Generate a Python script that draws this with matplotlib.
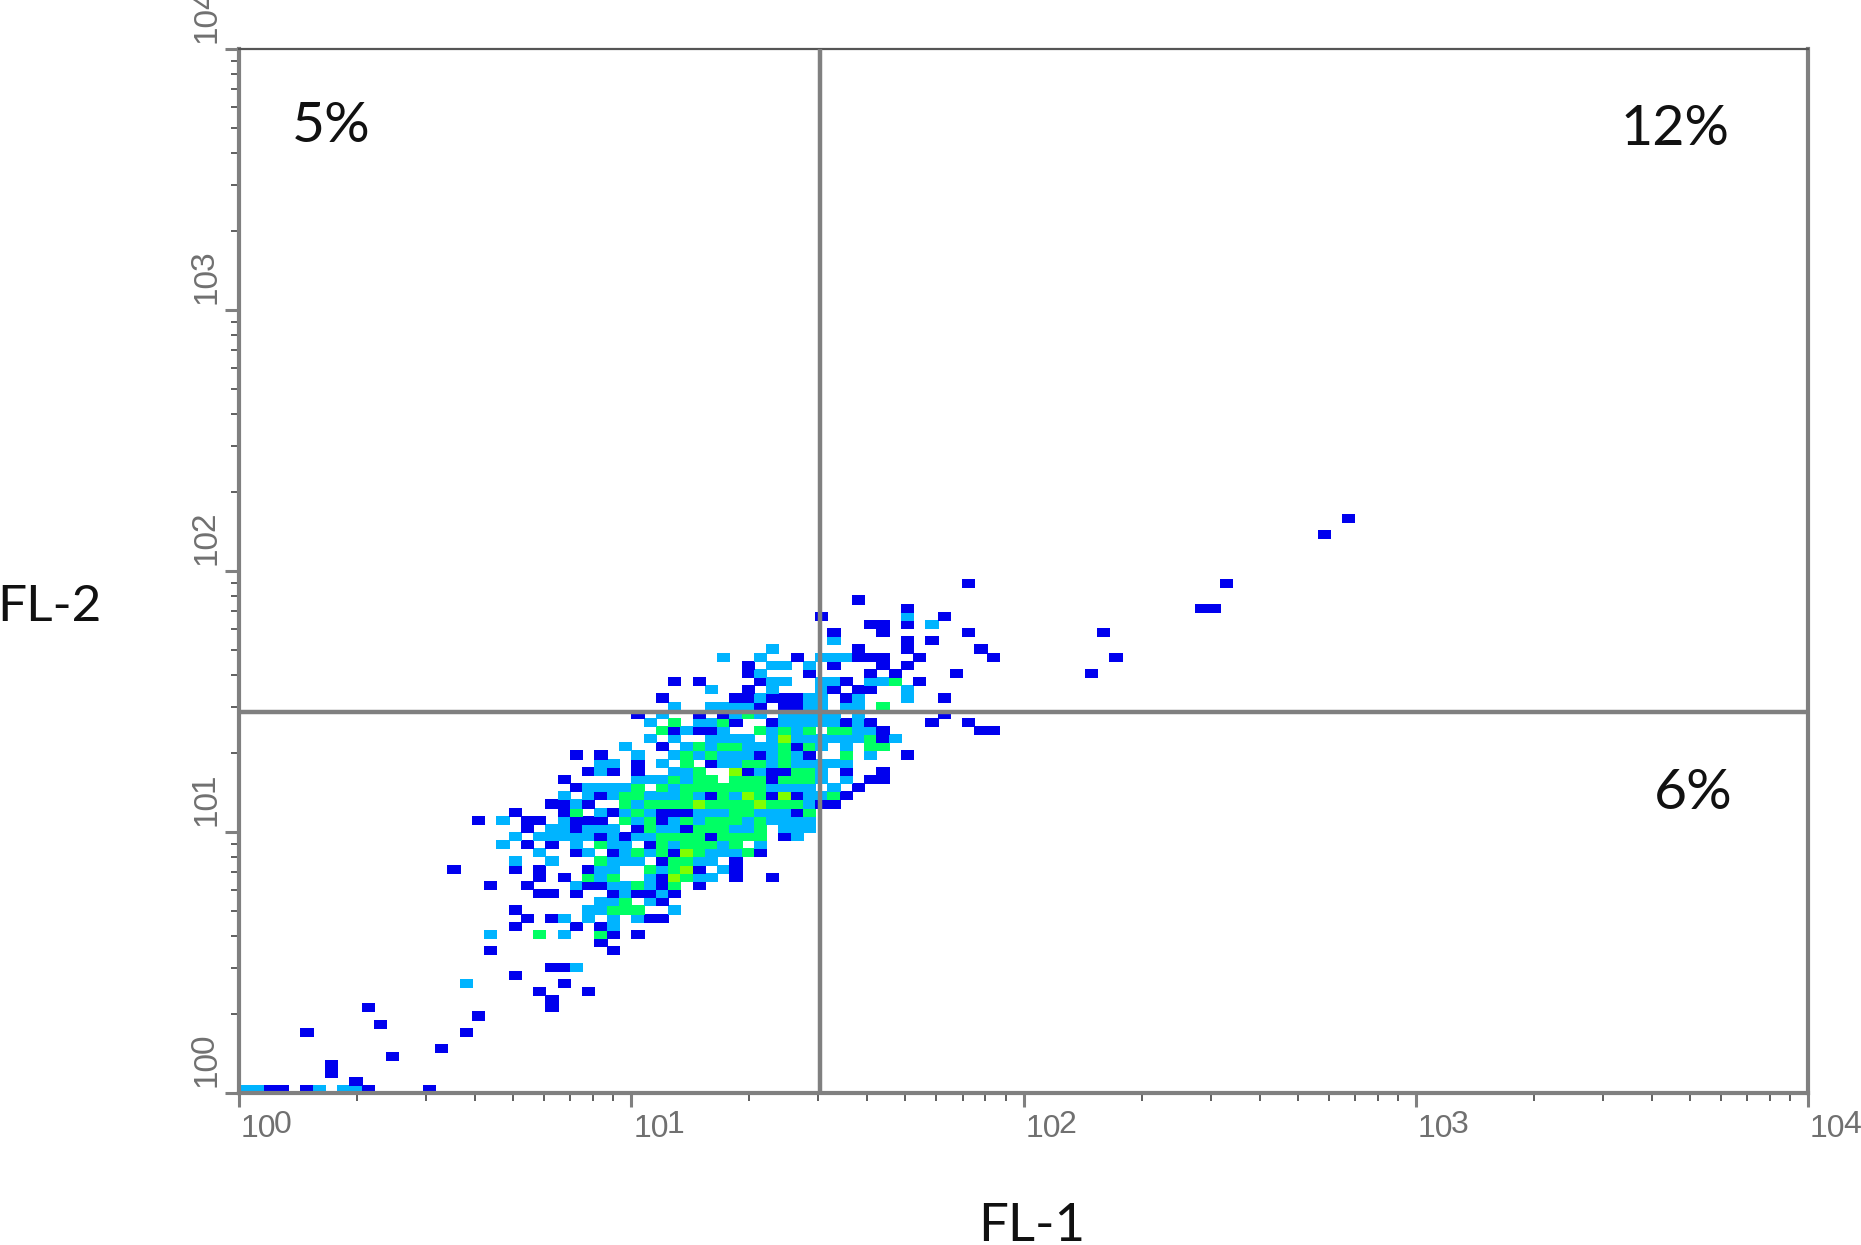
import numpy as np
import matplotlib
matplotlib.use('Agg')
import matplotlib.pyplot as plt
from matplotlib.colors import ListedColormap, BoundaryNorm
from matplotlib.ticker import LogLocator, NullFormatter

# occupied channels of the 128x128 histogram, {FL-2 channel: [FL-1 channels]}
level1_cells = {
    0: [2, 3, 5, 10, 15], 1: [9], 2: [7], 3: [7], 4: [12], 5: [16], 7: [5, 18], 8: [11], 9: [19],
    10: [10, 25], 11: [25], 12: [24, 28], 13: [26], 14: [22], 15: [25, 26], 17: [20, 30], 18: [29],
    19: [30, 32], 20: [22, 27, 29], 21: [23, 25, 33, 34], 22: [22], 23: [34],
    24: [24, 25, 27, 30, 32, 33, 35], 25: [20, 23, 28, 29, 34, 37], 26: [24, 26, 34, 40, 43],
    27: [17, 22, 24, 28, 37, 40], 28: [34, 40], 29: [27, 30, 35, 42], 30: [23, 25, 33],
    31: [29, 31, 38, 44], 32: [23, 27, 32, 36], 33: [19, 23, 24, 27, 28, 29, 34],
    34: [22, 26, 30, 34, 35, 36, 45], 35: [25, 26, 28, 47, 48], 36: [29, 38, 43, 45, 49],
    37: [27, 50], 38: [26, 43, 51, 52], 39: [28, 30, 32, 41, 43, 44, 49, 52], 40: [32, 38],
    41: [27, 29, 42, 46, 54], 42: [34, 45], 43: [52], 44: [35, 37, 38, 52, 60, 61],
    45: [40, 43, 49, 51, 56, 59], 46: [32, 37, 39, 57], 47: [42, 44, 45],
    48: [34, 40, 41, 43, 44, 45, 49, 57], 49: [41, 48, 50, 51], 50: [35, 37, 42, 49, 55],
    51: [41, 46, 51, 53, 58, 69], 52: [41, 48, 52, 54], 53: [45, 50, 51, 52, 55, 61, 71],
    54: [50, 54, 60], 55: [54, 56], 56: [48, 52, 59, 70], 57: [51, 52, 54], 58: [47, 57],
    59: [54, 78, 79], 60: [50], 62: [59, 80], 68: [88], 70: [90],
}
level2_cells = {
    0: [0, 1, 6, 8, 9], 13: [18], 15: [27], 19: [20, 26], 20: [30], 21: [26, 28, 30, 32],
    22: [28, 29, 35], 23: [29, 30, 33], 24: [31, 34], 25: [27, 30, 31, 33], 26: [29, 33, 37, 38],
    27: [29, 30, 34, 39], 28: [22, 25, 30, 31, 32, 37, 38], 29: [24, 28, 31, 33, 38, 39, 40],
    30: [21, 27, 30, 31, 35, 39, 42], 31: [22, 24, 25, 26, 27, 28, 30, 32, 33, 45],
    32: [25, 26, 28, 29, 30, 34, 35, 40, 41, 44, 45, 46],
    33: [21, 26, 32, 35, 37, 41, 43, 44, 45, 46], 34: [29, 31, 33, 37, 38, 39, 42, 43, 44],
    35: [27, 32, 46], 36: [26, 28, 30, 33, 34, 35, 37, 40, 46, 47],
    37: [28, 29, 30, 31, 35, 43, 44, 45, 46, 48], 38: [32, 33, 34, 36, 47, 49],
    39: [29, 35, 36, 42, 47], 40: [29, 30, 34, 39, 40, 43, 45, 46, 47, 48, 49],
    41: [32, 35, 37, 39, 40, 41, 43, 45, 51], 42: [31, 36, 38, 41, 42, 43, 47, 49],
    43: [33, 35, 38, 39, 40, 41, 43, 45, 46, 47, 48, 49, 50, 53], 44: [36, 39, 43, 45, 50, 51],
    45: [33, 37, 38, 44, 45, 46, 47, 48, 50], 46: [34, 40, 42, 44, 45, 46, 47, 48, 50],
    47: [35, 38, 39, 40, 41, 46, 47, 49, 50], 48: [42, 46, 47, 50, 54], 49: [38, 43, 47, 54],
    50: [43, 44, 47, 48, 51, 52], 51: [42], 52: [43, 44, 46], 53: [39, 42, 47, 48, 49],
    54: [43], 55: [48], 57: [56], 58: [54],
}
level3_cells = {
    19: [24, 29], 22: [30, 31, 32], 23: [31], 25: [32, 35], 26: [28, 30, 36], 27: [33, 35],
    28: [29, 35, 36], 29: [32, 34, 37, 41], 30: [29, 34, 36, 37, 38, 40],
    31: [34, 35, 36, 37, 39, 40, 41, 42], 32: [33, 37, 38, 39, 42],
    33: [31, 33, 36, 38, 39, 40, 42], 34: [27, 32, 40, 41, 46],
    35: [31, 33, 34, 35, 36, 38, 39, 40, 41, 43, 44, 45], 36: [31, 32, 36, 39, 42, 48],
    37: [32, 34, 36, 37, 38, 39, 40, 41, 42], 38: [35, 37, 38, 40, 41, 42, 44, 45, 46],
    39: [37, 45, 46], 40: [36, 41, 42, 44], 41: [36, 38, 44, 49], 42: [37, 39, 40, 44, 46, 51, 52],
    43: [51], 44: [34, 42, 44, 46, 48, 49], 45: [35, 39], 46: [41], 47: [52], 50: [53],
}
level4_cells = {26: [35], 27: [36], 29: [36], 35: [37, 42], 36: [41, 44], 39: [40], 43: [44]}

level_colors = ['#0000ee', '#00b4ff', '#00ff64', '#80ff00']
decades = [0, 1, 2, 3, 4]
quadrant_labels = ['5%', '12%', '6%']
gate_fl1 = 30.3
gate_fl2 = 28.8

n_channels = 128
counts = np.zeros((n_channels, n_channels))
for level, cells in enumerate([level1_cells, level2_cells, level3_cells, level4_cells], start=1):
    for row, cols in cells.items():
        counts[row, cols] = level
counts = np.ma.masked_equal(counts, 0)
edges = 10 ** (np.arange(n_channels + 1) * 4 / n_channels)

plt.rcParams['font.family'] = ['Liberation Sans', 'DejaVu Sans']

fig = plt.figure(figsize=(18.61, 12.45), dpi=100)
ax = fig.add_axes([239 / 1861, 1 - 1093 / 1245, (1808 - 239) / 1861, (1093 - 49) / 1245])

cmap = ListedColormap(level_colors)
norm = BoundaryNorm(np.arange(0.5, 5), cmap.N)
ax.pcolormesh(edges, edges, counts, cmap=cmap, norm=norm, edgecolors='face', linewidth=0.5)
ax.set_xscale('log')
ax.set_yscale('log')
ax.set_xlim(1, 1e4)
ax.set_ylim(1, 1e4)

# quadrant gates
ax.axvline(gate_fl1, color='#808080', lw=3.2, zorder=3)
ax.axhline(gate_fl2, color='#808080', lw=3.2, zorder=3)

for side in ['left', 'bottom', 'right']:
    ax.spines[side].set_color('#808080')
    ax.spines[side].set_linewidth(3.0)
ax.spines['top'].set_color('#555555')
ax.spines['top'].set_linewidth(1.6)

for axis in [ax.xaxis, ax.yaxis]:
    axis.set_major_locator(LogLocator(base=10, numticks=6))
    axis.set_minor_locator(LogLocator(base=10, subs=np.arange(2, 10), numticks=6))
    axis.set_major_formatter(NullFormatter())
    axis.set_minor_formatter(NullFormatter())
ax.tick_params(axis='both', which='major', length=10, width=2.2, color='#808080')
ax.tick_params(axis='both', which='minor', length=6, width=1.2, color='#444444')

# decade labels: "10" with the exponent raised only a little, as on the cytometer output
tick_color = '#707070'
for e in decades:
    ax.annotate('10', xy=(10 ** e, 1), xytext=(2, -51), xycoords='data', textcoords='offset pixels',
                fontsize=23, color=tick_color, ha='left', va='bottom', annotation_clip=False)
    ax.annotate(str(e), xy=(10 ** e, 1), xytext=(35, -47), xycoords='data', textcoords='offset pixels',
                fontsize=23, color=tick_color, ha='left', va='bottom', annotation_clip=False)
    ax.annotate('10', xy=(1, 10 ** e), xytext=(-16, 6), xycoords='data', textcoords='offset pixels',
                fontsize=24, color=tick_color, rotation=90, ha='right', va='bottom', annotation_clip=False)
    ax.annotate(str(e), xy=(1, 10 ** e), xytext=(-18, 40), xycoords='data', textcoords='offset pixels',
                fontsize=24, color=tick_color, rotation=90, ha='right', va='bottom', annotation_clip=False)

text_font = ['Lato', 'DejaVu Sans']
fig.text(292 / 1861, 1 - 142 / 1245, quadrant_labels[0], fontsize=41, family=text_font, color='#111111',
         ha='left', va='baseline')
fig.text(1730 / 1861, 1 - 145 / 1245, quadrant_labels[1], fontsize=40, family=text_font, color='#111111',
         ha='right', va='baseline')
fig.text(1733 / 1861, 1 - 809 / 1245, quadrant_labels[2], fontsize=41, family=text_font, color='#111111',
         ha='right', va='baseline')
fig.text(1032 / 1861, 1 - 1241 / 1245, 'FL-1', fontsize=38, family=text_font, color='#111111',
         ha='center', va='baseline')
fig.text(-3 / 1861, 1 - 621 / 1245, 'FL-2', fontsize=37, family=text_font, color='#111111',
         ha='left', va='baseline')

plt.savefig('out.png', dpi=100)
plt.close(fig)
